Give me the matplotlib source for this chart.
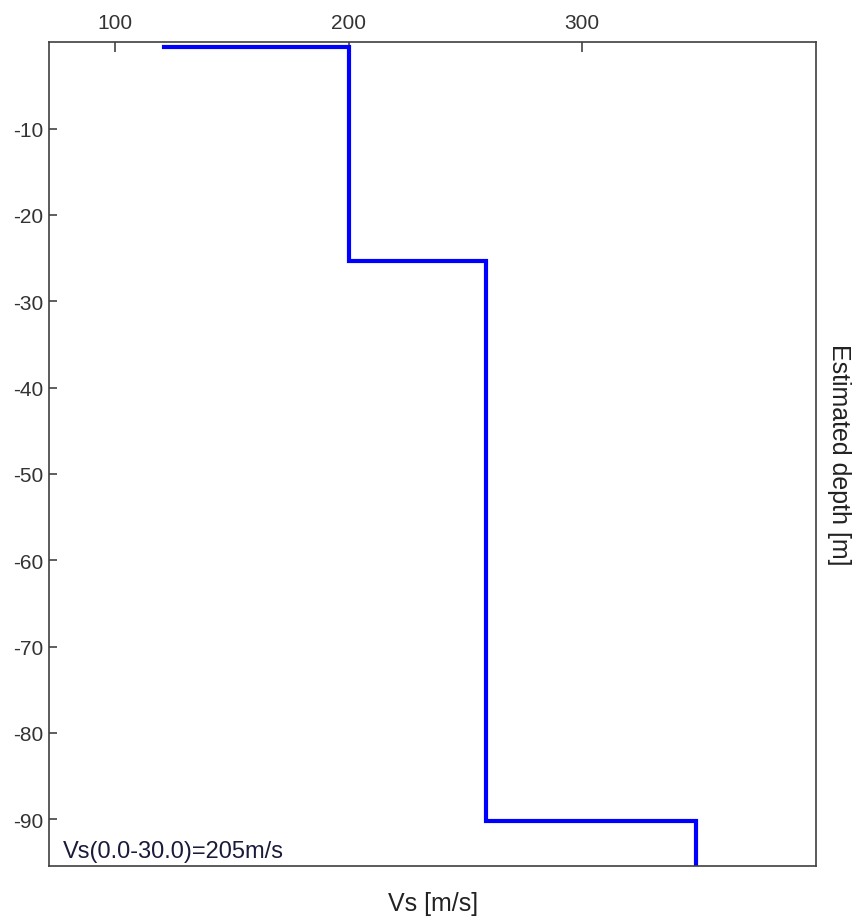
import matplotlib.pyplot as plt

plt.rcParams['font.family'] = ['Liberation Sans', 'DejaVu Sans']
plt.rcParams['axes.unicode_minus'] = False

# layered Vs profile (velocity of each layer, depth of each layer top)
vs_layers = [121, 200, 259, 349]
layer_tops = [-0.5, -25.3, -90.2]
profile_bottom = -100

depth_ticks = [-10, -20, -30, -40, -50, -60, -70, -80, -90]
vs_ticks = [100, 200, 300]
avg_text = 'Vs(0.0-30.0)=205m/s'

# build the step path from the layers
xs = [vs_layers[0]]
ys = [layer_tops[0]]
for i, top in enumerate(layer_tops):
    if i > 0:
        xs.append(vs_layers[i])
        ys.append(top)
    xs.append(vs_layers[i + 1])
    ys.append(top)
xs.append(vs_layers[-1])
ys.append(profile_bottom)

fig = plt.figure(figsize=(8.56, 9.2), dpi=100)
ax = fig.add_axes([0.0578, 0.0579, 0.8952, 0.8959])

ax.plot(xs, ys, color='#0000ff', linewidth=3.0, solid_joinstyle='miter')

ax.set_xlim(71.8, 400.3)
ax.set_ylim(-95.4, 0.1)
ax.set_xticks(vs_ticks)
ax.set_yticks(depth_ticks)

ax.xaxis.tick_top()
ax.xaxis.set_label_position('bottom')
ax.yaxis.tick_left()
ax.yaxis.set_label_position('right')

ax.tick_params(axis='x', direction='in', length=7, width=1.1, pad=7,
               labelsize=15, colors='#333333')
ax.tick_params(axis='y', direction='in', length=6, width=1.1, pad=4.5,
               labelsize=15, colors='#333333')
for s in ax.spines.values():
    s.set_color('#404040')
    s.set_linewidth(1.2)

ax.set_xlabel('Vs [m/s]', fontsize=18, color='#222222', labelpad=18)
ax.set_ylabel('Estimated depth [m]', fontsize=18, color='#222222',
              rotation=270, va='bottom', labelpad=8)

ax.text(0.018, 0.011, avg_text, transform=ax.transAxes, fontsize=17,
        color='#1a1a3a', ha='left', va='baseline')

plt.savefig('out.png', dpi=100)
